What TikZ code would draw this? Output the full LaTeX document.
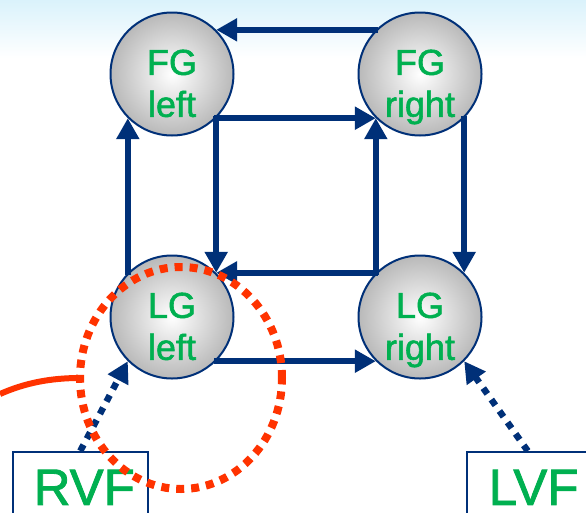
\documentclass[tikz,border=0pt]{standalone}
\usepackage{fontspec}
\setmainfont{Liberation Sans}
\newfontfamily\heavyfont[FakeBold=1.6]{Liberation Sans}
\usetikzlibrary{arrows.meta,shapes.geometric}
\definecolor{navy}{RGB}{0,48,120}
\definecolor{grn}{RGB}{0,176,80}
\definecolor{rring}{RGB}{255,51,0}
\definecolor{bgblue}{RGB}{218,242,251}
\begin{document}
\begin{tikzpicture}[x=1pt,y=-1pt,
  area/.style={circle, minimum size=123pt, inner sep=0pt, draw=navy, line width=2pt,
    inner color=white, outer color=gray!55, label={[lbl]center:#1}},
  lbl/.style={text=grn, font=\heavyfont\fontsize{36}{42}\selectfont, align=center, yshift=-13pt},
  link/.style={draw=navy, line width=6.5pt, shorten <=-2pt, -{Triangle[length=21pt,width=22pt]}},
  feed/.style={draw=navy, line width=6.5pt, dash pattern=on 7pt off 7pt, -{Triangle[length=21pt,width=22pt]}},
  vfbox/.style={draw=navy, line width=1.5pt, anchor=north west, inner xsep=0pt, inner ysep=18pt,
    align=left, text=grn, font=\heavyfont\fontsize{51}{60}\selectfont},
  redring/.style={ellipse, draw=rring, line width=8pt, dash pattern=on 8pt off 7pt,
    minimum width=202pt, minimum height=222pt, inner sep=0pt, outer sep=0pt},
  redline/.style={draw=rring, line width=6pt}
]
\useasboundingbox (0,0) rectangle (586,512);
\clip (0,0) rectangle (586,512);
\fill[white] (0,0) rectangle (586,512);
\shade[top color=bgblue, bottom color=white] (0,0) rectangle (586,58);

\node[area={FG\\left\vphantom{g}}] (fgl) at (172,74) {};
\node[area={FG\\right}] (fgr) at (420,74) {};
\node[area={LG\\left\vphantom{g}}] (lgl) at (172,317) {};
\node[area={LG\\right}] (lgr) at (420,317) {};

\node[vfbox, text width=135pt] (rvf) at (12,451) {\hspace*{21pt}RVF};
\node[vfbox, text width=122pt] (lvf) at (466,451) {\hspace*{22pt}LVF};

\draw[link] (fgr.north west) -- (fgl.north east);
\draw[link] (fgl.south east) -- (fgr.south west);
\draw[link] (fgl.south east) -- (lgl.north east);
\draw[link] (lgl.north west) -- (fgl.south west);
\draw[link] (lgr.north west) -- (fgr.south west);
\draw[link] (fgr.south east) -- (lgr.north east);
\draw[link] (lgr.north west) -- (lgl.north east);
\draw[link] (lgl.south east) -- (lgr.south west);

\draw[feed] (rvf.north) -- (lgl.south west);
\draw[feed] (lvf.north) -- (lgr.south east);

\node[redring] (ring) at (181,378) {};
\coordinate (redstart) at (0,394);
\draw[redline] (redstart) .. controls (25,383) and (50,378) .. (ring.west);
\end{tikzpicture}
\end{document}
